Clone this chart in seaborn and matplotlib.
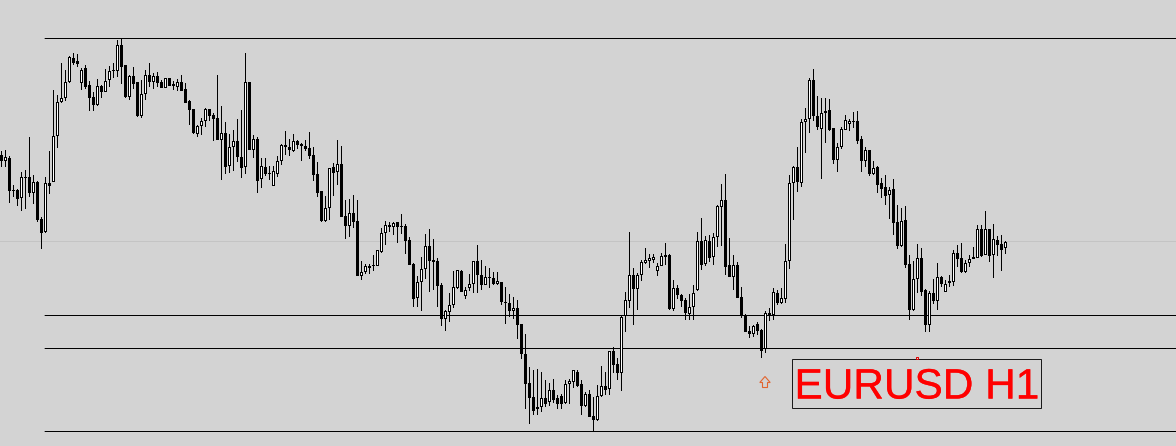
import matplotlib
matplotlib.use("Agg")
import matplotlib.patheffects as pe
import matplotlib.pyplot as plt
import matplotlib.transforms as mtransforms
import pandas as pd
import seaborn as sns
from matplotlib.patches import Polygon, Rectangle

# Values, y runs downward like the screenshot
high = [151,150,156,185,189,172,170,137,175,181,
        217,177,151,90,95,63,70,56,53,54,
        68,65,81,92,79,85,69,66,63,40,
        39,65,75,67,82,80,70,63,73,72,
        80,78,78,81,79,75,83,100,109,125,
        118,108,109,113,75,106,122,134,130,119,
        110,53,82,135,137,158,158,166,166,156,
        144,131,139,134,140,143,140,132,147,162,
        191,196,168,163,140,146,200,199,195,200,
        261,264,264,255,250,228,221,222,222,222,
        214,224,237,263,276,257,234,229,239,258,
        283,310,293,271,270,270,287,274,261,245,
        260,266,268,272,272,282,287,294,297,300,
        324,334,367,370,369,372,380,383,379,395,
        394,380,379,370,370,380,392,390,397,385,
        366,372,351,347,358,316,292,232,268,273,
        260,248,254,254,263,253,243,254,280,285,
        294,298,294,285,232,218,236,235,233,205,
        184,174,238,255,262,287,314,326,325,322,
        329,311,308,288,290,288,244,175,166,147,
        119,108,78,69,96,98,98,99,128,143,
        127,115,119,112,111,136,147,150,161,166,
        178,175,187,179,205,208,206,255,261,244,
        248,289,291,279,263,276,280,275,250,245,
        243,260,255,247,225,225,211,229,224,236,
        235,241]
low = [167,167,203,197,206,211,209,197,204,222,
       249,233,194,182,148,103,101,83,65,67,
       90,89,111,111,106,98,92,87,78,77,
       84,98,100,89,117,118,100,87,89,87,
       88,88,86,90,91,91,103,125,134,137,
       135,127,121,141,140,180,174,173,171,162,
       178,174,150,158,193,188,176,180,186,177,
       165,155,156,152,149,161,151,159,181,197,
       222,222,220,196,185,217,239,237,228,276,
       280,274,274,271,266,253,245,232,235,243,
       234,254,265,307,307,311,279,292,290,307,
       326,331,322,308,289,292,299,291,293,293,
       290,285,288,285,285,305,324,317,319,339,
       359,409,424,415,415,412,407,406,403,409,
       409,404,404,388,387,415,407,417,431,421,
       397,395,395,373,380,391,332,308,325,310,
       281,264,268,263,276,266,265,310,311,299,
       307,320,320,320,291,270,266,262,265,247,
       246,275,277,290,298,318,332,338,337,335,
       358,353,321,320,305,304,303,269,220,192,
       187,153,133,121,130,179,143,131,164,172,
       149,130,131,128,144,172,167,176,175,193,
       198,205,219,235,249,247,268,320,311,293,
       296,332,332,304,310,287,292,287,286,267,
       273,273,267,259,258,257,255,262,278,256,
       271,254]
body_top = [155,157,158,190,190,177,177,177,182,182,
            219,183,183,136,102,98,82,57,58,61,
            70,68,85,97,86,86,81,71,70,45,
            45,65,76,76,82,94,75,75,76,76,
            82,78,78,84,82,82,89,101,109,126,
            121,109,109,115,118,133,133,147,141,141,
            157,82,82,139,139,166,167,173,171,161,
            145,145,147,141,141,144,146,148,155,174,
            191,208,168,167,164,164,216,213,213,221,
            272,266,266,265,250,233,225,225,223,222,
            226,226,240,264,282,269,246,246,260,261,
            285,311,305,287,270,271,290,284,261,261,
            275,277,277,278,281,282,302,303,308,308,
            324,354,383,397,407,398,398,390,390,398,
            396,384,381,370,372,384,394,394,416,396,
            386,386,351,351,364,317,300,275,275,275,
            262,260,258,257,266,256,255,255,288,288,
            295,300,307,293,241,241,240,241,237,206,
            200,200,265,265,265,297,315,331,326,324,
            330,313,313,292,293,298,261,183,167,167,
            122,119,80,80,116,113,111,110,128,147,
            129,120,121,121,121,139,150,150,168,167,
            183,187,190,189,222,221,220,264,279,258,
            258,290,293,293,277,277,284,281,253,253,
            258,263,259,257,229,229,229,229,239,240,
            244,242]
body_bottom = [161,161,191,191,199,198,178,193,193,220,
               233,232,186,182,136,102,98,82,63,64,
               83,87,98,105,105,92,92,80,71,71,
               67,97,97,84,116,116,94,82,82,83,
               88,88,86,86,87,91,103,110,133,134,
               126,121,116,119,140,140,167,166,147,157,
               168,167,150,150,181,179,174,174,186,174,
               161,147,150,151,145,146,149,156,175,193,
               221,221,208,173,172,217,226,226,222,276,
               276,272,268,266,266,252,233,227,227,227,
               227,241,265,299,298,282,269,261,262,286,
               319,319,312,305,288,292,296,288,284,275,
               285,285,278,284,284,302,303,311,311,325,
               354,384,398,411,409,407,404,402,400,404,
               404,403,384,382,386,406,406,417,420,420,
               396,390,389,365,373,373,316,301,289,289,
               275,263,261,260,271,266,257,309,309,295,
               301,313,314,307,290,265,264,258,257,237,
               207,267,277,277,298,316,332,334,334,331,
               351,349,315,315,303,303,299,261,183,182,
               183,122,119,116,127,129,113,130,160,160,
               147,130,124,122,141,161,161,174,174,185,
               189,196,195,223,246,246,265,310,310,279,
               292,325,325,301,301,284,292,283,282,259,
               272,272,263,259,258,256,255,256,255,245,
               250,248]
bullish = [0,1,0,0,0,1,0,0,1,0,
           0,1,0,1,1,1,1,1,0,0,
           1,0,0,0,1,0,1,1,0,1,
           0,0,1,0,0,1,1,0,1,0,
           0,1,0,0,1,0,0,0,0,1,
           1,1,0,0,0,1,0,1,1,0,
           0,1,0,1,0,1,0,0,1,1,
           1,0,0,1,0,0,0,0,0,0,
           0,1,1,0,1,0,0,1,0,0,
           1,1,0,0,1,1,1,0,1,0,
           0,0,0,0,1,1,1,0,0,0,
           0,1,1,1,1,0,1,1,1,0,
           0,1,0,0,1,0,0,0,1,0,
           0,0,0,0,1,1,0,1,0,0,
           0,1,1,1,0,0,1,0,0,1,
           1,0,1,0,0,1,1,1,0,1,
           1,1,1,1,1,1,0,0,1,0,
           0,0,1,1,1,0,1,0,1,1,
           1,0,0,1,0,0,0,0,1,0,
           0,1,0,1,0,1,1,1,1,0,
           1,1,1,0,0,1,1,0,0,1,
           1,1,1,0,0,0,1,0,1,0,
           0,0,1,0,0,1,0,0,1,1,
           0,0,1,0,1,0,1,0,1,0,
           0,1,1,0,1,0,1,0,1,0,
           0,1]

level_lines = [38.5, 315.5, 348.5, 431.5]
pivot_line = 241.5
label = "EURUSD H1"

W, H = 1176, 446
BAR_STEP = 4
FIRST_BAR = 1.5
BG = "#d3d3d3"

candles = pd.DataFrame({"high": high, "low": low, "top": body_top,
                        "bottom": body_bottom, "bullish": bullish})
candles["bar"] = candles.index


def segments(df, start, end):
    # two rows per candle, one vertical line per bar
    return pd.concat([
        pd.DataFrame({"bar": df["bar"], "price": start}),
        pd.DataFrame({"bar": df["bar"], "price": end}),
    ])


def draw_segments(seg, ax, color, width_px, zorder):
    sns.lineplot(data=seg, x="bar", y="price", units="bar", estimator=None,
                 color=color, lw=width_px * 0.72, solid_capstyle="butt",
                 snap=False, legend=False, zorder=zorder, ax=ax)


sns.set_style("white")
plt.rcParams["font.family"] = ["Liberation Sans", "DejaVu Sans"]

fig = plt.figure(figsize=(W / 100, H / 100), dpi=100, facecolor=BG)
ax = fig.add_axes([0, 0, 1, 1])
ax.set_facecolor(BG)

ax.axhline(pivot_line, color="#c4c4c4", lw=0.72, snap=False, zorder=1)
for y in level_lines:
    ax.axhline(y, xmin=45 / W, color="black", lw=0.72, snap=False, zorder=1.5)

# wicks, then solid bodies, then the white core of rising candles
draw_segments(segments(candles, candles["high"], candles["low"]), ax, "black", 1, 2)
draw_segments(segments(candles, candles["top"], candles["bottom"]), ax, "black", 3, 3)
rising = candles[(candles["bullish"] == 1) & (candles["bottom"] - candles["top"] > 2)]
draw_segments(segments(rising, rising["top"] + 1, rising["bottom"] - 1), ax, "white", 1, 4)

ax.set_xlim(-FIRST_BAR / BAR_STEP, (W - FIRST_BAR) / BAR_STEP)
ax.set_ylim(H, 0)
ax.axis("off")

# overlay objects placed in screenshot pixels
px = mtransforms.Affine2D().scale(1, -1).translate(0, H)
ax.add_patch(Rectangle((792.5, 359.5), 249, 49, fill=False, edgecolor="#1a1a1a",
                       lw=0.72, transform=px, zorder=6, clip_on=False, snap=False))
ax.text(794.5, 398.5, label, color="#ff0000", fontsize=30.5, family=["Liberation Sans"],
        ha="left", va="baseline", transform=px, zorder=7,
        path_effects=[pe.withStroke(linewidth=0.2, foreground="#ff0000")])
arrow = [(765, 376.5), (759.8, 382.5), (762.5, 382.5), (762.5, 387.5),
         (767.5, 387.5), (767.5, 382.5), (770.2, 382.5)]
ax.add_patch(Polygon(arrow, closed=True, fill=False, edgecolor="#e2642e", lw=0.8,
                     transform=px, zorder=7, snap=False))
ax.plot([916.5], [358], marker="s", ms=2.0, mfc="none", mec="#e00000", mew=0.72,
        transform=px, zorder=7, clip_on=False)

fig.savefig("out.png", dpi=100, facecolor=BG)
